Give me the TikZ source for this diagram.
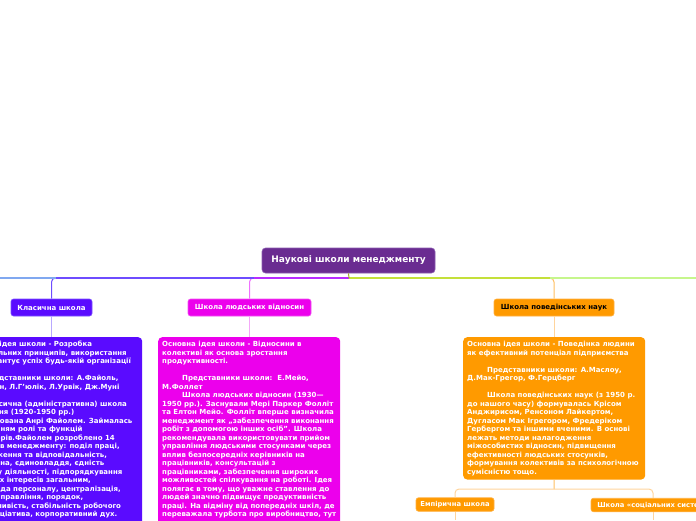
\documentclass[tikz,border=0pt]{standalone}
\usepackage{fontspec}
\setmainfont{DejaVu Sans}
\definecolor{rootc}{HTML}{6A2C91}
\definecolor{rootb}{HTML}{8A5AB0}
\definecolor{violetc}{HTML}{5A0BFF}
\definecolor{violetb}{HTML}{7A50FF}
\definecolor{magc}{HTML}{EC00EC}
\definecolor{magb}{HTML}{F050F0}
\definecolor{orc}{HTML}{FF9A00}
\definecolor{orb}{HTML}{FFB040}
\definecolor{lblue}{HTML}{80A8F0}
\definecolor{violine}{HTML}{6E4CFF}
\definecolor{violight}{HTML}{B8A8FF}
\definecolor{magline}{HTML}{B82CFF}
\definecolor{magvert}{HTML}{F070FF}
\definecolor{maglight}{HTML}{F4A8F8}
\definecolor{ygreen}{HTML}{C4E03A}
\definecolor{lgreen}{HTML}{C6F68C}
\definecolor{stub}{HTML}{A0A828}
\definecolor{orvert}{HTML}{FFBE60}
\definecolor{orlight}{HTML}{FFD49C}
\tikzset{
  rootbox/.style={fill=rootc, draw=rootb, line width=0.6pt, rounded corners=3.5pt, text=white,
    font=\fontsize{9}{11}\selectfont\bfseries, minimum width=173pt, minimum height=25pt, inner sep=0pt},
  subbox/.style={rounded corners=2.5pt, line width=0.6pt, font=\fontsize{7}{8}\selectfont\bfseries,
    minimum height=17pt, inner sep=0pt},
  smallbox/.style={fill=orc, draw=orb, rounded corners=2.5pt, line width=0.6pt, text=white,
    font=\fontsize{6.8}{8}\selectfont\bfseries, minimum height=13.5pt, inner sep=0pt},
  bigbox/.style={rounded corners=4pt, anchor=north west, inner xsep=4pt, inner ysep=4pt, text=white,
    font=\fontsize{7}{8.5}\selectfont\bfseries},
  hline/.style={line width=1.5pt},
  vline/.style={line width=1pt},
}
\newcommand{\ind}{\hspace*{20pt}}
\newcommand{\blank}{\mbox{}}
\begin{document}
\begin{tikzpicture}[x=1pt,y=-1pt]
\useasboundingbox (0,0) rectangle (696,520);
\clip (0,0) rectangle (696,520);

% nodes
\node[rootbox] (root) at (348.5,260.5) {Наукові школи менеджменту};
\node[subbox, fill=violetc, draw=violetb, text=white, minimum width=81pt] (klas) at (51.5,307.5) {Класична школа};
\node[subbox, fill=magc, draw=magb, text=white, minimum width=123pt] (hum) at (249.5,307.5) {Школа людських відносин};
\node[subbox, fill=orc, draw=orb, text=black, minimum width=120pt] (beh) at (554,307.5) {Школа поведінських наук};

\node[bigbox, fill=violetc] (klasbox) at (-41,337) {\parbox[t][200pt][t]{175pt}{\raggedright\parindent=0pt
Основна ідея школи - Розробка\\
універсальних принципів, використання\\
яких гарантує успіх будь-якій організації\\
\blank\\
\ind Представники школи: А.Файоль,\\
Г.Емерсон, Л.Г'юлік, Л.Урвік, Дж.Муні\\
\blank\\
\ind Класична (адміністративна) школа\\
управління (1920-1950 рр.)\\
започаткована Анрі Файолем. Займалась\\
визначенням ролі та функцій\\
менеджерів.Файолем розроблено 14\\
принципів менеджменту: поділ праці,\\
повноваження та відповідальність,\\
дисципліна, єдиновладдя, єдність\\
напрямку діяльності, підпорядкування\\
особистих інтересів загальним,\\
винагорода персоналу, централізація,\\
ланцюг управління, порядок,\\
справедливість, стабільність робочого\\
місця, ініціатива, корпоративний дух.}};

\node[bigbox, fill=magc] (humbox) at (158,337) {\parbox[t][200pt][t]{174pt}{\raggedright\parindent=0pt
Основна ідея школи - Відносини в\\
колективі як основа зростання\\
продуктивності.\\
\blank\\
\ind Представники школи:\ \ Е.Мейо,\\
М.Фоллет\\
\ind Школа людських відносин (1930—\\
1950 рр.). Заснували Мері Паркер Фолліт\\
та Елтон Мейо. Фолліт вперше визначила\\
менеджмент як „забезпечення виконання\\
робіт з допомогою інших осіб". Школа\\
рекомендувала використовувати прийом\\
управління людськими стосунками через\\
вплив безпосередніх керівників на\\
працівників, консультацій з\\
працівниками, забезпечення широких\\
можливостей спілкування на роботі. Ідея\\
полягає в тому, що уважне ставлення до\\
людей значно підвищує продуктивність\\
праці. На відміну від попередніх шкіл, де\\
переважала турбота про виробництво, тут}};

\node[bigbox, fill=orc] (behbox) at (463,337) {\parbox[t]{174pt}{\raggedright\parindent=0pt
Основна ідея школи - Поведінка людини\\
як ефективний потенціал підприємства\\
\blank\\
\ind Представники школи: А.Маслоу,\\
Д.Мак-Грегор, Ф.Герцберг\\
\blank\\
\ind Школа поведінських наук (з 1950 р.\\
до нашого часу) формувалась Крісом\\
Анджирисом, Ренсоном Лайкертом,\\
Дугласом Мак Ігрегором, Фредеріком\\
Гербергом та іншими вченими. В основі\\
лежать методи налагодження\\
міжособистих відносин, підвищення\\
ефективності людських стосунків,\\
формування колективів за психологічною\\
сумісністю тощо.}};

\node[smallbox, minimum width=78pt] (emp) at (455,504.5) {Емпірична школа};
\node[smallbox, minimum width=124pt] (soc) at (653,505) {Школа «соціальних систем»};

% connectors
\coordinate (j) at (349,278);
\coordinate (lend) at (0,278);
\coordinate (rend) at (696,278);
\coordinate (klastop) at (56,278);
\coordinate (humtop) at (254,278);
\coordinate (behtop) at (550,278);

\draw[vline, violine, rounded corners=4pt] (j) -| (klas.north);
\draw[vline, magvert, rounded corners=4pt] (j) -| (hum.north);
\draw[vline, orvert, rounded corners=4pt] (j) -| (beh.north);
\draw[hline, lblue] (j) -- (lend);
\draw[hline, violine] (j) -- (klastop);
\draw[hline, magline] (j) -- (humtop);
\draw[hline, lgreen] (j) -- (rend);
\draw[hline, ygreen] (j) -- (behtop);
\draw[vline, stub] (root.south) -- (j);

\draw[vline, violight] (klas.south) -- (klas.south |- klasbox.north);
\draw[vline, maglight] (hum.south) -- (hum.south |- humbox.north);
\draw[vline, orlight] (beh.south) -- (beh.south |- behbox.north);

\coordinate (j2) at (554,489);
\coordinate (empend) at (455,520);
\coordinate (socend) at (653,520);
\draw[vline, orvert] (behbox.south) -- (j2);
\draw[vline, orlight, rounded corners=4pt] (j2) -| (emp.north);
\draw[vline, orlight, rounded corners=4pt] (j2) -| (soc.north);
\draw[vline, orlight] (emp.south) -- (empend);
\draw[vline, orlight] (soc.south) -- (socend);
\end{tikzpicture}
\end{document}
